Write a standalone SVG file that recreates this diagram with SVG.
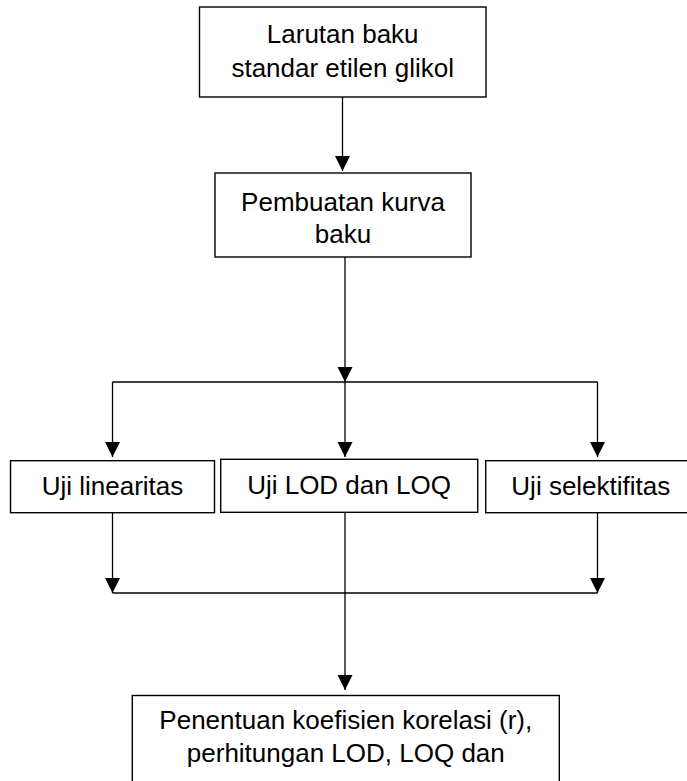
<svg xmlns="http://www.w3.org/2000/svg" width="687" height="781" viewBox="0 0 687 781">
<style>
.box{fill:#fff;stroke:#000;stroke-width:1.4}
.lbl{font-family:"Liberation Sans",Arial,sans-serif;font-size:26px;fill:#000;text-anchor:middle}
.ln{fill:none;stroke:#000;stroke-width:1.3}
</style>
<defs>
<marker id="ah" markerUnits="userSpaceOnUse" markerWidth="16" markerHeight="16" viewBox="0 0 16 16" refX="15" refY="7.5" orient="auto">
<path d="M0,0 L15,7.5 L0,15 Z" fill="#000"/>
</marker>
</defs>
<rect width="687" height="781" fill="#fff"/>
<g id="connectors">
<line class="ln" x1="342.5" y1="97" x2="342.5" y2="171" marker-end="url(#ah)"/>
<line class="ln" x1="345" y1="257" x2="345" y2="382" marker-end="url(#ah)"/>
<line class="ln" x1="345" y1="382" x2="345" y2="457" marker-end="url(#ah)"/>
<line class="ln" x1="112.5" y1="382" x2="597.5" y2="382"/>
<line class="ln" x1="112.5" y1="382" x2="112.5" y2="457" marker-end="url(#ah)"/>
<line class="ln" x1="597.5" y1="382" x2="597.5" y2="457" marker-end="url(#ah)"/>
<line class="ln" x1="112.5" y1="513" x2="112.5" y2="593" marker-end="url(#ah)"/>
<line class="ln" x1="597.5" y1="513" x2="597.5" y2="593" marker-end="url(#ah)"/>
<line class="ln" x1="112.5" y1="593" x2="597.5" y2="593"/>
<line class="ln" x1="345" y1="512" x2="345" y2="690" marker-end="url(#ah)"/>
</g>
<g id="n1">
<rect class="box" x="199.5" y="7" width="286.5" height="90"/>
<text class="lbl" x="342.7" y="43">Larutan baku</text>
<text class="lbl" x="342.7" y="77">standar etilen glikol</text>
</g>
<g id="n2">
<rect class="box" x="215" y="173" width="256" height="84"/>
<text class="lbl" x="343" y="211">Pembuatan kurva</text>
<text class="lbl" x="343" y="243">baku</text>
</g>
<g id="n3">
<rect class="box" x="10.5" y="460.7" width="204" height="52"/>
<text class="lbl" x="112.5" y="495">Uji linearitas</text>
</g>
<g id="n4">
<rect class="box" x="220.7" y="459.3" width="257" height="53"/>
<text class="lbl" x="349" y="494">Uji LOD dan LOQ</text>
</g>
<g id="n5">
<rect class="box" x="485.7" y="460.7" width="210" height="52"/>
<text class="lbl" x="590.8" y="495">Uji selektifitas</text>
</g>
<g id="n6">
<rect class="box" x="132.3" y="695.5" width="427" height="100"/>
<text class="lbl" x="345.8" y="729">Penentuan koefisien korelasi (r),</text>
<text class="lbl" x="345.8" y="762">perhitungan LOD, LOQ dan</text>
</g>
</svg>
